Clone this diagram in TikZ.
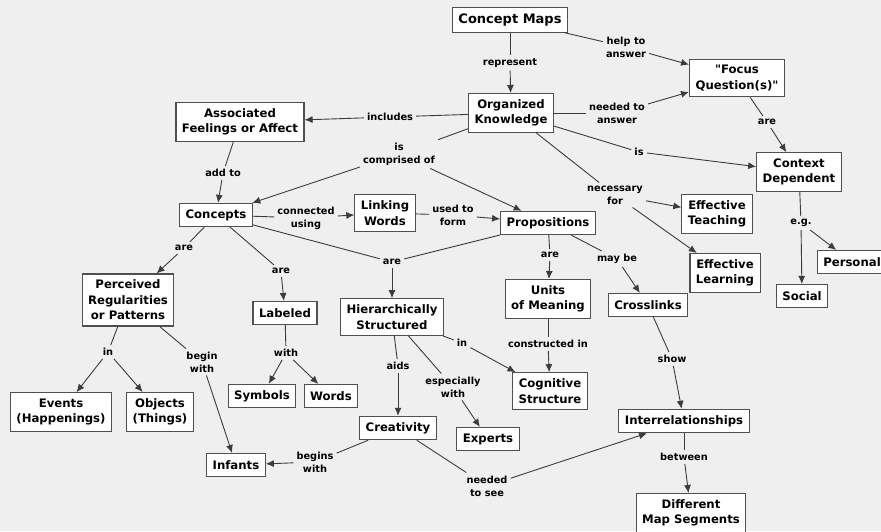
\documentclass[tikz,border=0pt]{standalone}
\usepackage{fontspec}
\setmainfont{DejaVu Sans}[Ligatures=TeXOff]
\usetikzlibrary{arrows.meta}

\definecolor{paper}{HTML}{EFEFEF}
\definecolor{edge}{HTML}{3C3C3C}
\definecolor{frame}{HTML}{505050}

\tikzset{
  concept/.style={draw=frame, line width=1.1pt, fill=white, align=center,
    font=\bfseries\fontsize{11.7}{15.5}\selectfont,
    inner xsep=6pt, inner ysep=6pt, minimum height=23pt},
  rootconcept/.style={concept, font=\bfseries\fontsize{13}{16}\selectfont},
  linklabel/.style={align=center, inner sep=3pt,
    font=\bfseries\fontsize{9.8}{13}\selectfont},
  link/.style={draw=edge, line width=0.9pt},
  arrowlink/.style={link, -{Latex[length=8pt,width=7pt]}}
}

\begin{document}
\begin{tikzpicture}[x=1pt,y=-1pt]
  \fill[paper] (0,0) rectangle (881,531);
  \useasboundingbox (0,0) rectangle (881,531);

  % concepts
  \node[rootconcept] (cmap) at (510,20) {Concept Maps};
  \node[concept] (focus) at (737,78) {"Focus\\Question(s)"};
  \node[concept] (org) at (511,113) {Organized\\Knowledge};
  \node[concept] (feel) at (240,122) {Associated\\Feelings or Affect};
  \node[concept] (ctx) at (799,172) {Context\\Dependent};
  \node[concept] (teach) at (717,214) {Effective\\Teaching};
  \node[concept] (learn) at (725,273) {Effective\\Learning};
  \node[concept] (personal) at (852,262) {Personal};
  \node[concept] (social) at (802,296) {Social};
  \node[concept] (concepts) at (216,215) {Concepts};
  \node[concept] (linking) at (385,213) {Linking\\Words};
  \node[concept] (props) at (548,223) {Propositions};
  \node[concept] (units) at (548,299) {Units\\of Meaning};
  \node[concept] (cross) at (648,305) {Crosslinks};
  \node[concept] (cog) at (550,391) {Cognitive\\Structure};
  \node[concept] (inter) at (684,421) {Interrelationships};
  \node[concept] (diff) at (691,513) {Different\\Map Segments};
  \node[concept] (experts) at (488,439) {Experts};
  \node[concept] (hier) at (392,317) {Hierarchically\\Structured};
  \node[concept] (labeled) at (285,313) {Labeled};
  \node[concept] (perc) at (128,300) {Perceived\\Regularities\\or Patterns};
  \node[concept] (events) at (61,412) {Events\\(Happenings)};
  \node[concept] (objects) at (160,412) {Objects\\(Things)};
  \node[concept] (symbols) at (262,396) {Symbols};
  \node[concept] (words) at (331,396) {Words};
  \node[concept] (creat) at (398,428) {Creativity};
  \node[concept] (infants) at (236,465) {Infants};

  % linking phrases
  \node[linklabel] (lrep) at (510,63) {represent};
  \node[linklabel] (lhelp) at (626,47) {help to\\answer};
  \node[linklabel] (lneed) at (617,113) {needed to\\answer};
  \node[linklabel] (lincl) at (390,117) {includes};
  \node[linklabel] (lis) at (639,152) {is};
  \node[linklabel] (lcomp) at (399,154) {is\\comprised of};
  \node[linklabel] (lnec) at (615,195) {necessary\\for};
  \node[linklabel] (lareA) at (767,122) {are};
  \node[linklabel] (leg) at (801,223) {e.g.};
  \node[linklabel] (ladd) at (223,173) {add to};
  \node[linklabel] (lconn) at (306,218) {connected\\using};
  \node[linklabel] (lused) at (453,215) {used to\\form};
  \node[linklabel] (lareB) at (184,248) {are};
  \node[linklabel] (lareC) at (281,271) {are};
  \node[linklabel] (lareD) at (392,262) {are};
  \node[linklabel] (lareE) at (550,255) {are};
  \node[linklabel] (lmay) at (617,259) {may be};
  \node[linklabel] (lin) at (108,352) {in};
  \node[linklabel] (lbegin) at (202,362) {begin\\with};
  \node[linklabel] (lwith) at (286,353) {with};
  \node[linklabel] (laids) at (398,366) {aids};
  \node[linklabel] (lesp) at (453,387) {especially\\with};
  \node[linklabel] (linB) at (462,343) {in};
  \node[linklabel] (lconstr) at (548,344) {constructed in};
  \node[linklabel] (lshow) at (672,359) {show};
  \node[linklabel] (lbetw) at (684,457) {between};
  \node[linklabel] (lsee) at (487,486) {needed\\to see};
  \node[linklabel] (lbegins) at (315,462) {begins\\with};

  % connectors: source to phrase, phrase to target
  \draw[link] (cmap) -- (lrep);      \draw[arrowlink] (lrep) -- (org);
  \draw[link] (cmap) -- (lhelp);     \draw[arrowlink] (lhelp) -- (focus);
  \draw[link] (org) -- (lneed);      \draw[arrowlink] (lneed) -- (focus);
  \draw[link] (org) -- (lincl);      \draw[arrowlink] (lincl) -- (feel);
  \draw[link] (org) -- (lis);        \draw[arrowlink] (lis) -- (ctx);
  \draw[link] (org) -- (lcomp);      \draw[arrowlink] (lcomp) -- (concepts);
                                     \draw[arrowlink] (lcomp) -- (props);
  \draw[link] (org) -- (lnec);       \draw[arrowlink] (lnec) -- (teach);
                                     \draw[arrowlink] (lnec) -- (learn);
  \draw[link] (focus) -- (lareA);    \draw[arrowlink] (lareA) -- (ctx);
  \draw[link] (ctx) -- (leg);        \draw[arrowlink] (leg) -- (social);
                                     \draw[arrowlink] (leg) -- (personal);
  \draw[link] (feel) -- (ladd);      \draw[arrowlink] (ladd) -- (concepts);
  \draw[link] (concepts) -- (lconn); \draw[arrowlink] (lconn) -- (linking);
  \draw[link] (linking) -- (lused);  \draw[arrowlink] (lused) -- (props);
  \draw[link] (concepts) -- (lareB); \draw[arrowlink] (lareB) -- (perc);
  \draw[link] (concepts) -- (lareC); \draw[arrowlink] (lareC) -- (labeled);
  \draw[link] (concepts) -- (lareD); \draw[link] (props) -- (lareD);
                                     \draw[arrowlink] (lareD) -- (hier);
  \draw[link] (props) -- (lareE);    \draw[arrowlink] (lareE) -- (units);
  \draw[link] (props) -- (lmay);     \draw[arrowlink] (lmay) -- (cross);
  \draw[link] (perc) -- (lin);       \draw[arrowlink] (lin) -- (events);
                                     \draw[arrowlink] (lin) -- (objects);
  \draw[link] (perc) -- (lbegin);    \draw[arrowlink] (lbegin) -- (infants);
  \draw[link] (labeled) -- (lwith);  \draw[arrowlink] (lwith) -- (symbols);
                                     \draw[arrowlink] (lwith) -- (words);
  \draw[link] (hier) -- (laids);     \draw[arrowlink] (laids) -- (creat);
  \draw[link] (hier) -- (lesp);      \draw[arrowlink] (lesp) -- (experts);
  \draw[link] (hier) -- (linB);      \draw[arrowlink] (linB) -- (cog);
  \draw[link] (units) -- (lconstr);  \draw[arrowlink] (lconstr) -- (cog);
  \draw[link] (cross) -- (lshow);    \draw[arrowlink] (lshow) -- (inter);
  \draw[link] (inter) -- (lbetw);    \draw[arrowlink] (lbetw) -- (diff);
  \draw[link] (creat) -- (lsee);     \draw[arrowlink] (lsee) -- (inter);
  \draw[link] (creat) -- (lbegins);  \draw[arrowlink] (lbegins) -- (infants);
\end{tikzpicture}
\end{document}
